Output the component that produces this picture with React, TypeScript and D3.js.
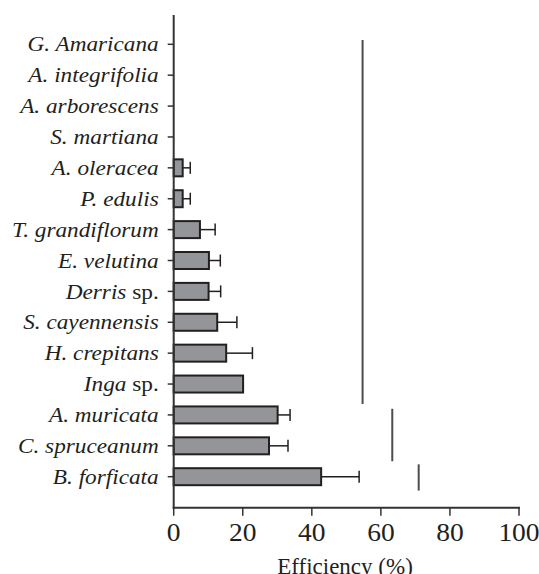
import React from "react";
import * as d3 from "d3";

const genus: string[] = [
  "G. Amaricana", "A. integrifolia", "A. arborescens", "S. martiana", "A. oleracea",
  "P. edulis", "T. grandiflorum", "E. velutina", "Derris", "S. cayennensis",
  "H. crepitans", "Inga", "A. muricata", "C. spruceanum", "B. forficata",
];
const suffix: string[] = ["", "", "", "", "", "", "", "", " sp.", "", "", " sp.", "", "", ""];
const efficiency: number[] = [0, 0, 0, 0, 2.6, 2.6, 7.6, 10.2, 10.1, 12.6, 15.2, 20.1, 30.1, 27.6, 42.7];
const errorUpper: number[] = [0, 0, 0, 0, 4.8, 4.8, 12, 13.5, 13.6, 18.3, 22.8, 20.1, 33.7, 33.1, 53.7];
const hasBar: boolean[] = [false, false, false, false, true, true, true, true, true, true, true, true, true, true, true];
const xTicks: number[] = [0, 20, 40, 60, 80, 100];
const refValues: number[] = [54.7, 63.3, 70.95];
const refFrom: number[] = [-0.14, 11.8, 13.6];
const refTo: number[] = [11.65, 13.5, 14.45];
const xTitle = "Efficiency (%)";

const W = 539, H = 574;
const left = 173.7, right = 519, axisY = 507.7, axisTop = 15;
const firstC = 44.3, lastC = 476.7;
const stretch = 1.107;

export default function App() {
  const x = d3.scaleLinear().domain([0, 100]).range([left, right]);
  const step = (lastC - firstC) / (genus.length - 1);
  const y = d3.scaleBand<number>()
    .domain(d3.range(genus.length))
    .range([firstC - step / 2, lastC + step / 2])
    .paddingInner(0.385)
    .paddingOuter(0.385 / 2);
  const yIdx = d3.scaleLinear().domain([0, genus.length - 1]).range([firstC, lastC]);
  const bw = y.bandwidth();
  const font = "Liberation Serif";
  const ink = "#231f20";

  return (
    <svg width={W} height={H} style={{ position: "absolute", left: 0, top: 0 }} fontFamily={font}>
      {refValues.map((v, i) => (
        <line key={"r" + i} x1={x(v)} x2={x(v)} y1={yIdx(refFrom[i])} y2={yIdx(refTo[i])}
          stroke="#4d4d4f" strokeWidth={2} />
      ))}
      {genus.map((g, i) => {
        if (!hasBar[i]) return null;
        const yc = yIdx(i);
        const y0 = (y(i) as number);
        return (
          <g key={g}>
            {errorUpper[i] > efficiency[i] && (
              <g stroke={ink} strokeWidth={1.5}>
                <line x1={x(efficiency[i])} x2={x(errorUpper[i])} y1={yc} y2={yc} />
                <line x1={x(errorUpper[i])} x2={x(errorUpper[i])} y1={yc - 6} y2={yc + 6} />
              </g>
            )}
            <rect x={x(0)} y={y0 + 1} width={x(efficiency[i]) - x(0)} height={bw - 2}
              fill="#939598" stroke={ink} strokeWidth={2} />
          </g>
        );
      })}
      <line x1={left} x2={left} y1={axisTop} y2={axisY + 1} stroke="#333" strokeWidth={2} />
      {genus.map((g, i) => (
        <g key={"t" + i}>
          <line x1={left - 6} x2={left} y1={yIdx(i)} y2={yIdx(i)} stroke="#333" strokeWidth={1.5} />
          <g transform={`translate(${left - 15},${yIdx(i)}) scale(${stretch},1)`}>
            <text x={0} y={0} dy="0.34em" textAnchor="end" fontSize={21} fill={ink}>
              <tspan fontStyle="italic">{g}</tspan>
              {suffix[i] && <tspan>{suffix[i]}</tspan>}
            </text>
          </g>
        </g>
      ))}
      <line x1={left - 1} x2={right + 1} y1={axisY} y2={axisY} stroke="#333" strokeWidth={2} />
      {xTicks.map((t) => (
        <g key={"x" + t}>
          <line x1={x(t)} x2={x(t)} y1={axisY} y2={axisY + 8} stroke="#333" strokeWidth={1.5} />
          <g transform={`translate(${x(t)},${axisY + 33}) scale(1.1,1)`}>
            <text x={0} y={0} textAnchor="middle" fontSize={25} fill={ink}>{t}</text>
          </g>
        </g>
      ))}
      <text x={345} y={H} textAnchor="middle" fontSize={23} fill={ink}>{xTitle}</text>
    </svg>
  );
}
